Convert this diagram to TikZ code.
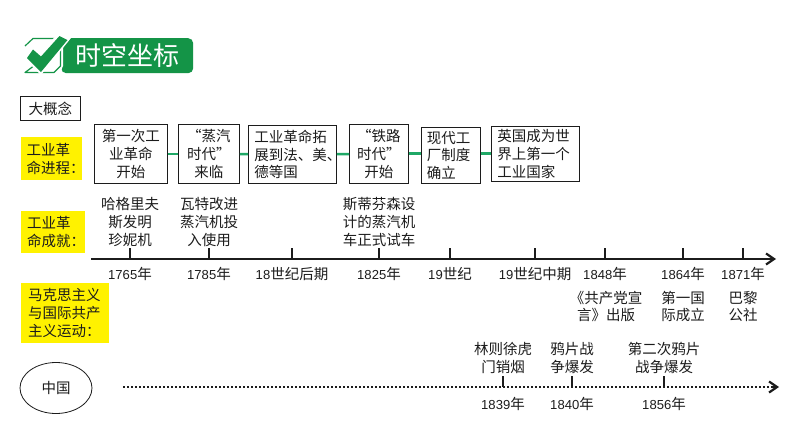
\documentclass[tikz,border=0pt]{standalone}
\usepackage{fontspec}
\setmainfont{Noto Sans CJK SC}
\newfontfamily\digitfont{Liberation Sans}[Scale=0.9]
\newcommand{\dg}[1]{{\digitfont #1}}
\usetikzlibrary{positioning,shapes.geometric,arrows.meta}
\definecolor{titlegreen}{HTML}{149447}
\definecolor{linkgreen}{HTML}{1FA866}
\definecolor{inkgray}{HTML}{1C1C1C}
\tikzset{
  txt/.style={inner sep=0pt,text=inkgray,align=center,font=\fontsize{14.5}{17.8}\selectfont},
  stagebox/.style={draw=inkgray,line width=.8pt,fill=white,inner sep=0pt,anchor=north west,
    text=inkgray,font=\fontsize{14.5}{17.8}\selectfont},
  yellowbox/.style={fill=yellow,inner sep=0pt,anchor=north west,text=inkgray,align=left,
    font=\fontsize{14.5}{17.8}\selectfont},
  link/.style={draw=linkgreen,line width=2.4pt},
  axis/.style={draw=inkgray,line width=2.2pt,-{Straight Barb[length=8pt,width=11pt,line width=2.2pt]}},
  tick/.style={draw=inkgray,line width=1.8pt},
}
\begin{document}
\begin{tikzpicture}[x=1pt,y=-1pt]
  \useasboundingbox[fill=white] (0,0) rectangle (794,447);
  % title
  \node[fill=titlegreen,rounded corners=5pt,minimum width=132pt,minimum height=35pt,inner sep=0pt,
    anchor=north west] (titlebar) at (61,38) {};
  \node[txt,text=white,font=\fontsize{26}{26}\selectfont] (titletext) at (127.5,55.5) {时空坐标};
  \fill[white] (58,36) -- (70,36) -- (63,46) -- (63,66) -- (59,75) -- (58,75) -- cycle;
  \draw[titlegreen,line width=1.2pt,line join=round] (25,46) -- (33,38.5) -- (56,38.5) (60.5,46) -- (60.5,66) -- (54,72.5) -- (25,72.5) -- cycle;
  \fill[white] (24,58) -- (33,46) -- (41,53) -- (59,32) -- (71,38) -- (41,75) -- cycle;
  \fill[titlegreen] (27,58) -- (33,49.5) -- (41,56.5) -- (59.5,36) -- (67.5,40) -- (41,72) -- cycle;
  % left labels
  \node[draw=inkgray,line width=.8pt,inner sep=0pt,minimum width=60pt,minimum height=24pt,anchor=north west,
    text=inkgray,font=\fontsize{14.5}{17.8}\selectfont] (bigidea) at (20,96) {大概念};
  \node[yellowbox,minimum width=61pt,minimum height=43pt,text width=50pt,inner xsep=5.5pt] (labelA) at (21,137) {工业革\\命进程：};
  \node[yellowbox,minimum width=64pt,minimum height=42pt,text width=52pt,inner xsep=6pt] (labelB) at (21,211) {工业革\\命成就：};
  \node[yellowbox,minimum width=88pt,minimum height=60pt,text width=74pt,inner xsep=7pt] (labelC) at (21,283) {马克思主义\\与国际共产\\主义运动：};
  % stages
  \node[stagebox,minimum width=73pt,minimum height=59pt,align=center] (s1) at (94,124) {第一次工\\业革命\\开始};
  \node[stagebox,minimum width=61pt,minimum height=59pt,align=center] (s2) at (178,124) {“蒸汽\\时代”\\来临};
  \node[stagebox,minimum width=88pt,minimum height=58pt,text width=86pt,align=left] (s3) at (248,125) {\hspace*{5pt}工业革命拓\\\hspace*{5pt}展到法、美、\\\hspace*{5pt}德等国};
  \node[stagebox,minimum width=59pt,minimum height=59pt,align=center] (s4) at (349,124) {“铁路\\时代”\\开始};
  \node[stagebox,minimum width=59pt,minimum height=56pt,text width=48pt,inner xsep=5.5pt,align=left] (s5) at (421,127) {现代工\\厂制度\\确立};
  \node[stagebox,minimum width=88pt,minimum height=55pt,text width=76pt,inner xsep=6pt,align=left] (s6) at (491,126) {英国成为世\\界上第一个\\工业国家};
  \draw[link] (s1) -- (s2);
  \draw[link] (s2) -- (s3);
  \draw[link] (s3) -- (s4);
  \draw[link] (s4.east |- 0,153.5) -- (s5.west |- 0,153.5);
  \draw[link] (s5.east |- 0,153.5) -- (s6.west |- 0,153.5);
  % main time line
  \coordinate (axisstart) at (91,259);
  \coordinate (axisend) at (776,259);
  \draw[axis] (axisstart) -- (axisend);
  \foreach \x/\t [count=\i] in {130/\dg{1765}年,209/\dg{1785}年,292/\dg{18}世纪后期,379/\dg{1825}年,
      450/\dg{19}世纪,535/\dg{19}世纪中期,605/\dg{1848}年,683/\dg{1864}年,743/\dg{1871}年}{
    \coordinate (up\i) at (\x,248);
    \node[txt] (year\i) at (\x,274) {\t};
    \draw[tick] (up\i) -- (\x,259);
  }
  \node[txt,above=1.5pt of up1] (e1) {哈格里夫\\斯发明\\珍妮机};
  \node[txt,above=1.5pt of up2] (e2) {瓦特改进\\蒸汽机投\\入使用};
  \node[txt,above=1.5pt of up4] (e4) {斯蒂芬森设\\计的蒸汽机\\车正式试车};
  \node[txt] (e7) at (606,306.5) {《共产党宣\\言》出版};
  \node[txt] (e8) at (683,306.5) {第一国\\际成立};
  \node[txt] (e9) at (743,306.5) {巴黎\\公社};
  % china line
  \node[draw=inkgray,line width=.8pt,ellipse,minimum width=72pt,minimum height=51pt,inner sep=0pt,
    text=inkgray,font=\fontsize{14.5}{17.8}\selectfont] (china) at (56,388) {中国};
  \coordinate (cnstart) at (123,387);
  \coordinate (cnend) at (779,387);
  \draw[inkgray,line width=2.2pt,dash pattern=on 2pt off 2pt] (cnstart) -- (772,387);
  \draw[inkgray,line width=2pt,-{Straight Barb[length=8pt,width=11pt,line width=2.2pt]}] (772,387) -- (cnend);
  \foreach \x/\t [count=\i] in {503/\dg{1839}年,572/\dg{1840}年,664/\dg{1856}年}{
    \coordinate (cnup\i) at (\x,376);
    \node[txt] (cnyear\i) at (\x,404) {\t};
    \draw[tick] (cnup\i) -- (\x,387);
  }
  \node[txt,above=2pt of cnup1] (c1) {林则徐虎\\门销烟};
  \node[txt,above=2pt of cnup2] (c2) {鸦片战\\争爆发};
  \node[txt,above=2pt of cnup3] (c3) {第二次鸦片\\战争爆发};
\end{tikzpicture}
\end{document}
